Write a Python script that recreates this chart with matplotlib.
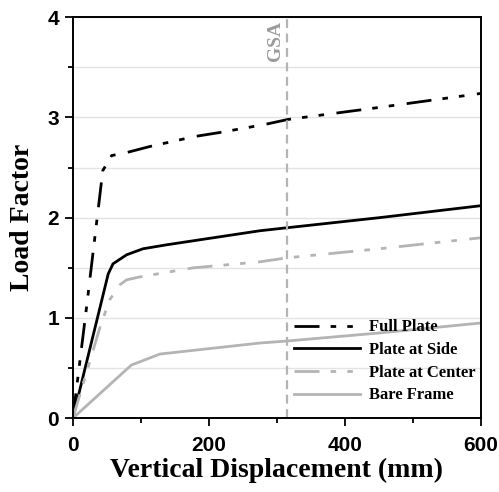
import matplotlib
matplotlib.use("Agg")
import matplotlib.pyplot as plt
from matplotlib.ticker import MultipleLocator

# load-displacement curves
full_x = [0, 20, 44, 57, 79, 113, 179, 216, 282, 316, 450, 600]
full_y = [0, 1.1, 2.47, 2.62, 2.65, 2.71, 2.81, 2.85, 2.93, 2.98, 3.10, 3.24]

side_x = [0, 52, 59, 79, 103, 138, 275, 315, 450, 600]
side_y = [0, 1.44, 1.54, 1.63, 1.69, 1.73, 1.87, 1.90, 2.00, 2.12]

center_x = [0, 40, 54, 69, 79, 99, 177, 275, 315, 450, 600]
center_y = [0, 0.91, 1.18, 1.33, 1.38, 1.41, 1.50, 1.56, 1.60, 1.69, 1.80]

bare_x = [0, 86, 128, 275, 315, 450, 600]
bare_y = [0, 0.53, 0.64, 0.75, 0.77, 0.85, 0.95]

gsa_x = 315

serif = "Liberation Serif"
sans = "Liberation Sans"

fig = plt.figure(figsize=(4.99, 4.92), dpi=100)
ax = fig.add_axes([0.146, 0.150, 0.818, 0.815])

ax.yaxis.grid(True, which="both", color="#e3e3e3", lw=1)
ax.set_axisbelow(True)

# dash - dot - dot (Origin style)
ddd = (9, 4, 2, 4, 2, 4.5)
ax.plot(full_x, full_y, color="black", lw=2, dashes=ddd, label="Full Plate")
ax.plot(side_x, side_y, color="black", lw=2, label="Plate at Side")
ax.plot(center_x, center_y, color="#b4b4b4", lw=2, dashes=ddd, label="Plate at Center")
ax.plot(bare_x, bare_y, color="#b4b4b4", lw=2, label="Bare Frame")

ax.axvline(gsa_x, color="#b4b4b4", lw=1.6, ls=(0, (4, 2.5)))
ax.text(gsa_x - 5, 3.96, "GSA", rotation=90, ha="right", va="top",
        color="#9a9a9a", fontsize=14, fontweight="bold", family=serif)

ax.set_xlim(0, 600)
ax.set_ylim(0, 4)
ax.xaxis.set_major_locator(MultipleLocator(200))
ax.xaxis.set_minor_locator(MultipleLocator(100))
ax.yaxis.set_major_locator(MultipleLocator(1))
ax.yaxis.set_minor_locator(MultipleLocator(0.5))
ax.tick_params(which="major", direction="out", length=6, width=1.3, pad=4)
ax.tick_params(axis="x", which="major", pad=7)
ax.tick_params(which="minor", direction="out", length=3.5, width=1.3)
for lab in ax.get_xticklabels() + ax.get_yticklabels():
    lab.set_family(sans)
    lab.set_fontweight("bold")
    lab.set_fontsize(15)
for s in ax.spines.values():
    s.set_linewidth(1.4)

ax.set_xlabel("Vertical Displacement (mm)", family=serif, fontweight="bold", fontsize=20, labelpad=2)
ax.set_ylabel("Load Factor", family=serif, fontweight="bold", fontsize=20, labelpad=9)

ax.legend(loc="lower right", frameon=False, handlelength=4.0, handletextpad=0.5,
          labelspacing=0.4, prop={"family": serif, "weight": "bold", "size": 12},
          bbox_to_anchor=(1.01, 0.012), borderaxespad=0.2)

fig.savefig("out.png", dpi=100)
